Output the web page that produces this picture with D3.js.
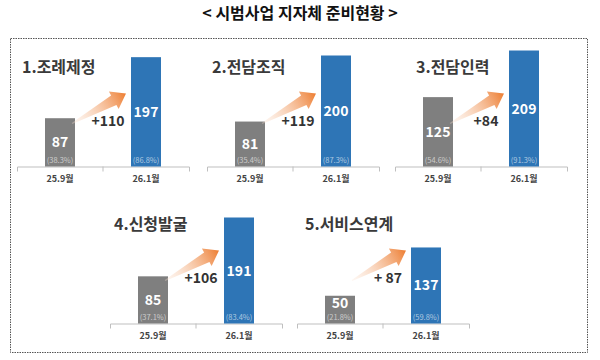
<!DOCTYPE html>
<html>
<head>
<meta charset="utf-8">
<script src="https://cdn.jsdelivr.net/npm/d3@7"></script>
<style>
  body { margin: 0; background: #fff; }
  svg { font-family: "Noto Sans CJK KR", "Noto Sans", sans-serif; }
</style>
</head>
<body>
<div id="chart"></div>
<script>
// data
const titles = ['1.조례제정', '2.전담조직', '3.전담인력', '4.신청발굴', '5.서비스연계'];
const periods = ['25.9월', '26.1월'];
const before = [87, 81, 125, 85, 50];
const after = [197, 200, 209, 191, 137];
const beforePct = ['(38.3%)', '(35.4%)', '(54.6%)', '(37.1%)', '(21.8%)'];
const afterPct = ['(86.8%)', '(87.3%)', '(91.3%)', '(83.4%)', '(59.8%)'];
const deltas = ['+110', '+119', '+84', '+106', '+ 87'];

(function () {
    let svg = d3.select('#chart')
        .append('svg')
        .attr('width', 600)
        .attr('height', 360);

    // 그라데이션 화살표
    let defs = svg.append('defs');
    let grad = defs.append('linearGradient')
        .attr('id', 'arrowGrad')
        .attr('x1', '0%').attr('x2', '100%')
        .attr('y1', '0%').attr('y2', '0%');
    grad.append('stop').attr('offset', '0%').attr('stop-color', '#fbe5d6').attr('stop-opacity', 0.3);
    grad.append('stop').attr('offset', '100%').attr('stop-color', '#ed7d31');

    svg.append('text')
        .attr('x', 300)
        .attr('y', 19)
        .attr('text-anchor', 'middle')
        .attr('font-size', 16)
        .attr('font-weight', 'bold')
        .attr('fill', '#111')
        .text('< 시범사업 지자체 준비현황 >');

    svg.append('rect')
        .attr('x', 10.5).attr('y', 38.5)
        .attr('width', 577).attr('height', 314)
        .attr('fill', 'none')
        .attr('stroke', '#555')
        .attr('stroke-dasharray', '1.5,1');

    // 각 패널 위치 (축 왼쪽 끝, 축 y)
    let layout = [
        { x: 17, y: 166.5, tx: 5 },
        { x: 207, y: 166.5, tx: 5 },
        { x: 395, y: 166.5, tx: 21 },
        { x: 110, y: 323.5, tx: 4 },
        { x: 297, y: 323.5, tx: 8 }
    ];
    let axisW = 172;
    let barW = 30;

    let x = d3.scaleBand()
        .domain(periods)
        .range([0, axisW]);

    let y = d3.scaleLinear()
        .domain([0, 200])
        .range([0, 111]);

    titles.forEach(function (t, i) {
        let pos = layout[i];
        let g = svg.append('g')
            .attr('transform', 'translate(' + pos.x + ',' + pos.y + ')');
        let vals = [before[i], after[i]];
        let pcts = [beforePct[i], afterPct[i]];

        g.append('text')
            .attr('x', pos.tx)
            .attr('y', -94)
            .attr('font-size', 16)
            .attr('font-weight', 'bold')
            .attr('fill', '#3a3a3a')
            .text(t);

        // 축
        let axis = d3.axisBottom(x)
            .tickSize(0)
            .tickSizeOuter(5)
            .tickPadding(9);
        let ax = g.append('g').call(axis);
        ax.select('.domain').attr('stroke', '#bfbfbf');
        ax.selectAll('text')
            .attr('font-size', 9)
            .attr('font-weight', 'bold')
            .attr('fill', '#444')
            .attr('font-family', '"Noto Sans CJK KR", sans-serif');
        g.append('line')
            .attr('x1', x(periods[1])).attr('x2', x(periods[1]))
            .attr('y1', 0).attr('y2', 5)
            .attr('stroke', '#bfbfbf');

        g.selectAll('rect.bar')
            .data(vals)
            .enter()
            .append('rect')
            .attr('class', 'bar')
            .attr('x', function (d, j) {
                return x(periods[j]) + (x.bandwidth() - barW) / 2;
            })
            .attr('y', function (d) { return -y(d); })
            .attr('width', barW)
            .attr('height', function (d) { return y(d); })
            .attr('fill', function (d, j) { return j === 0 ? '#7f7f7f' : '#2e75b6'; });

        g.selectAll('text.val')
            .data(vals)
            .enter()
            .append('text')
            .attr('class', 'val')
            .attr('x', function (d, j) { return x(periods[j]) + x.bandwidth() / 2; })
            .attr('y', function (d) { return -Math.max(y(d) / 2, 21) + 5; })
            .attr('text-anchor', 'middle')
            .attr('font-size', 14)
            .attr('font-weight', 'bold')
            .attr('fill', '#fff')
            .text(function (d) { return d; });

        g.selectAll('text.pct')
            .data(pcts)
            .enter()
            .append('text')
            .attr('class', 'pct')
            .attr('x', function (d, j) { return x(periods[j]) + x.bandwidth() / 2; })
            .attr('y', -4)
            .attr('text-anchor', 'middle')
            .attr('font-size', 7.5)
            .attr('fill', '#fff')
            .attr('fill-opacity', 0.6)
            .text(function (d) { return d; });

        // 화살표: 꼬리 -> 머리
        let x0 = 55, y0 = -43, x1 = 109, y1 = -73;
        let len = Math.sqrt((x1 - x0) * (x1 - x0) + (y1 - y0) * (y1 - y0));
        let ang = Math.atan2(y1 - y0, x1 - x0) * 180 / Math.PI;
        let hl = 14;
        let pts = [[0, -0.5], [len - hl, -5.5], [len - hl, -10], [len, 0], [len - hl, 10], [len - hl, 5.5], [0, 0.5]];
        g.append('polygon')
            .attr('transform', 'translate(' + x0 + ',' + y0 + ') rotate(' + ang + ')')
            .attr('points', pts.map(function (p) { return p.join(','); }).join(' '))
            .attr('fill', 'url(#arrowGrad)');

        g.append('text')
            .attr('x', 91)
            .attr('y', -41)
            .attr('text-anchor', 'middle')
            .attr('font-size', 14)
            .attr('font-weight', 'bold')
            .attr('fill', '#333')
            .text(deltas[i]);
    });
})();
</script>
</body>
</html>
